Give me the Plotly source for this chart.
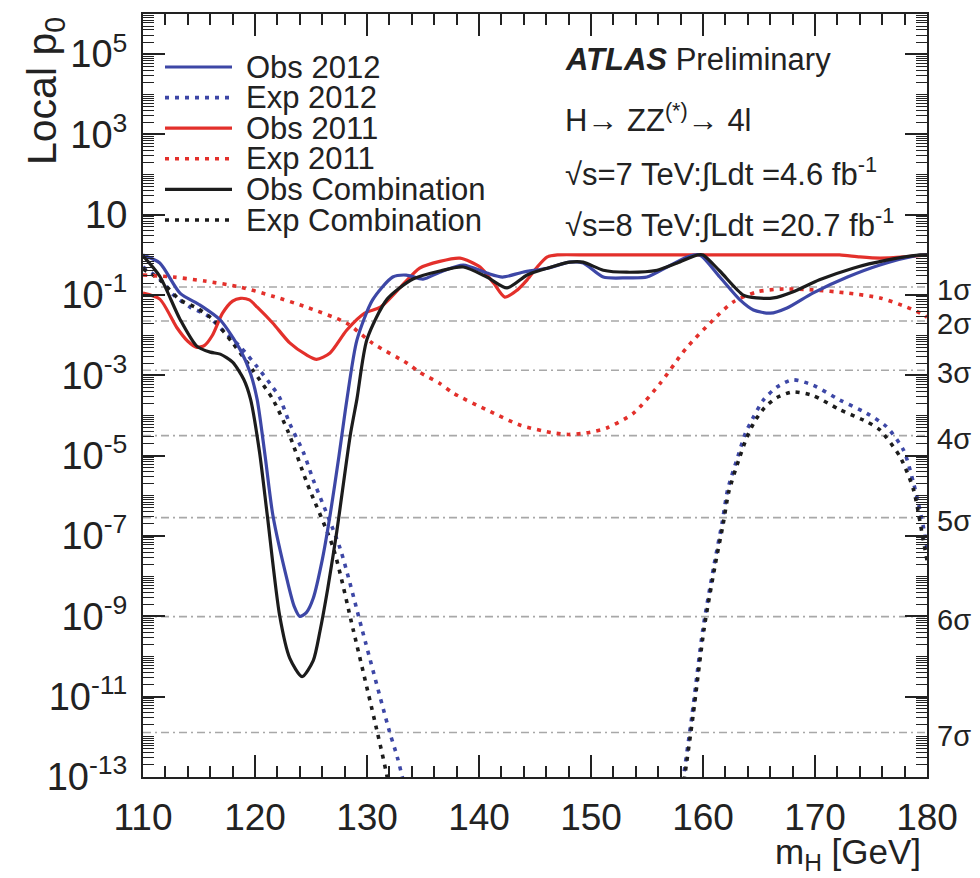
import numpy as np
import plotly.graph_objects as go

# ---------------- data (log10 of local p0 vs m_H [GeV]) ----------------
MH_OBS2012 = [110, 111.5, 113.3, 115.1, 116.9, 118.7, 119.6, 120.2, 120.9, 121.6, 122.9, 123.5, 124.0,
              124.6, 125.2, 126.0, 126.7, 127.5, 128.2, 129.1, 130.5, 132.3, 133.5, 135.0, 136.5, 138.6,
              140.7, 142.1, 143.9, 146.1, 148.1, 149.3, 151.1, 153.2, 155.0, 156.8, 158.6, 159.7, 161.5,
              163.3, 164.5, 166.0, 167.5, 169.8, 172.9, 175.8, 178.8, 180]
LOGP_OBS2012 = [0.0, -0.2, -0.95, -1.25, -1.62, -2.37, -2.95, -3.61, -5.0, -6.49, -8.13, -8.75, -9.0,
                -8.9, -8.55, -7.6, -6.49, -5.0, -3.61, -2.12, -1.12, -0.55, -0.5, -0.6, -0.43, -0.25,
                -0.45, -0.55, -0.43, -0.33, -0.18, -0.2, -0.55, -0.57, -0.55, -0.3, -0.05, 0.0, -0.55,
                -1.12, -1.37, -1.45, -1.32, -0.95, -0.55, -0.25, -0.03, 0.0]

MH_EXP2012 = [110, 111.5, 112.7, 114.2, 115.7, 117.1, 118.7, 120.2, 121.6, 122.2, 123.1, 124.3, 125.2,
              127.6, 129.6, 132.0, 132.7, 133.4, 134.5, 157.2, 158.2, 159.0, 160.0, 161.0, 161.7, 162.2,
              163.1, 163.8, 164.5, 165.4, 166.6, 168.0, 169.8, 172.2, 174.6, 176.4, 177.9, 178.8, 179.7, 180]
LOGP_EXP2012 = [-0.3, -0.6, -0.99, -1.3, -1.5, -1.87, -2.29, -2.79, -3.3, -3.55, -4.2, -4.9, -5.6,
                -7.31, -9.37, -11.86, -12.5, -13.3, -15, -15, -13.1, -11.5, -9.3, -7.7, -6.68, -5.85,
                -5.03, -4.43, -4.04, -3.61, -3.29, -3.11, -3.24, -3.61, -3.94, -4.28, -4.86, -5.68, -6.8, -7.3]

MH_OBS2011 = [110, 111.5, 113.0, 114.0, 114.8, 115.5, 116.2, 117.1, 118.0, 118.7, 119.5, 120.2, 121.6,
              123.1, 124.6, 125.5, 126.7, 128.2, 129.8, 131.2, 133.0, 134.7, 136.5, 138.3, 140.1, 141.3,
              142.3, 143.3, 144.3, 145.2, 146.1, 147.0, 150, 160, 170, 172.2, 174, 175.8, 178.0, 180]
LOGP_OBS2011 = [-0.95, -1.1, -1.8, -2.15, -2.3, -2.25, -2.0, -1.45, -1.15, -1.08, -1.12, -1.3, -1.7,
                -2.19, -2.49, -2.6, -2.44, -1.87, -1.45, -1.3, -0.8, -0.33, -0.16, -0.08, -0.3, -0.7,
                -1.05, -0.9, -0.62, -0.3, -0.05, 0.0, 0.0, 0.0, 0.0, 0.0, -0.05, -0.08, -0.05, 0.0]

MH_EXP2011 = [110, 112.7, 115.5, 118.7, 121.5, 124.6, 128.2, 130.5, 133.6, 134.7, 136.5, 137.7, 140.7,
              143.7, 146.6, 148.0, 149.6, 151.4, 153.8, 156.2, 157.9, 158.6, 160.9, 162.7, 164.8, 166.9,
              169.8, 172.9, 175.8, 178.2, 179.4, 180]
LOGP_EXP2011 = [-0.5, -0.55, -0.65, -0.8, -1.02, -1.3, -1.7, -2.2, -2.7, -2.92, -3.2, -3.44, -3.86,
                -4.24, -4.43, -4.47, -4.43, -4.31, -3.94, -3.19, -2.54, -2.29, -1.62, -1.17, -0.92, -0.85,
                -0.87, -0.95, -1.07, -1.3, -1.45, -1.55]

MH_OBSCOMB = [110, 111.5, 113.3, 114.8, 116.0, 116.9, 118.0, 119.0, 119.6, 120.4, 121.1, 122.2, 123.1,
              124.2, 125.2, 125.8, 126.5, 127.3, 128.5, 129.1, 130.0, 131.8, 134.1, 136.5, 138.6, 140.7,
              142.5, 144.3, 146.1, 148.1, 149.3, 151.1, 153.2, 155.9, 157.7, 159.5, 160.0, 161.5, 163.6,
              164.8, 166.3, 168.0, 170.4, 173.4, 176.4, 179.4, 180]
LOGP_OBSCOMB = [-0.02, -0.53, -1.6, -2.27, -2.42, -2.47, -2.67, -3.1, -3.59, -4.9, -6.49, -8.98, -10.04,
                -10.5, -10.1, -9.37, -8.3, -6.89, -4.5, -3.59, -2.1, -1.1, -0.6, -0.4, -0.3, -0.55,
                -0.82, -0.5, -0.33, -0.18, -0.18, -0.38, -0.43, -0.38, -0.2, 0.0, 0.0, -0.4, -1.0,
                -1.07, -1.07, -0.92, -0.62, -0.33, -0.13, 0.0, 0.0]

MH_EXPCOMB = [110, 111.5, 113.3, 114.8, 116.3, 118.0, 119.8, 121.6, 123.0, 124.6, 127.0, 128.8, 130.9,
              131.8, 133.0, 157.2, 158.3, 159.1, 160.1, 161.1, 161.8, 162.3, 163.2, 163.9, 164.6, 165.5,
              166.6, 168.0, 169.8, 172.2, 174.6, 175.8, 177.6, 178.8, 179.6, 180]
LOGP_EXPCOMB = [-0.35, -0.62, -1.12, -1.32, -1.62, -2.19, -2.87, -3.6, -4.43, -5.65, -7.31, -9.37, -11.86,
                -13.0, -15, -15, -13.1, -11.5, -9.3, -7.7, -6.7, -5.9, -5.1, -4.55, -4.15, -3.8,
                -3.55, -3.41, -3.5, -3.85, -4.15, -4.36, -5.03, -5.85, -7.0, -7.6]

SIGMA_LABELS = ["1σ", "2σ", "3σ", "4σ", "5σ", "6σ", "7σ"]
SIGMA_P = [0.1587, 0.02275, 1.35e-3, 3.17e-5, 2.87e-7, 9.87e-10, 1.28e-12]

X_RANGE = [110, 180]
Y_LOG_RANGE = [-13, 6]
Y_LABELLED = [-13, -11, -9, -7, -5, -3, -1, 1, 3, 5]
Y_UNLABELLED = [-12, -10, -8, -6, -4, -2, 0, 2, 4]

LEGEND_NAMES = ["Obs 2012", "Exp 2012", "Obs 2011", "Exp 2011", "Obs Combination", "Exp Combination"]

TEXT_LINES = ["<b><i>ATLAS</i></b> Preliminary",
              "H→ ZZ<sup>(*)</sup>→ 4l",
              "√s=7 TeV:∫Ldt =4.6 fb<sup>-1</sup>",
              "√s=8 TeV:∫Ldt =20.7 fb<sup>-1</sup>"]

# ---------------- styling ----------------
BLUE = "#3d47a6"
RED = "#e3302b"
BLACK = "#1c1c1c"
DOT = "4px,6px"
FONT = "Liberation Sans, Arial, Helvetica, sans-serif"

W, H = 980, 878
ML, MR, MT, MB = 143, 53, 14, 101
PW, PH = W - ML - MR, H - MT - MB


def px_x(px):
    return (px - ML) / PW


def px_y(py):
    return (H - MB - py) / PH


series = [
    ("Exp 2012", MH_EXP2012, LOGP_EXP2012, BLUE, DOT),
    ("Exp Combination", MH_EXPCOMB, LOGP_EXPCOMB, BLACK, DOT),
    ("Exp 2011", MH_EXP2011, LOGP_EXP2011, RED, DOT),
    ("Obs 2011", MH_OBS2011, LOGP_OBS2011, RED, "solid"),
    ("Obs 2012", MH_OBS2012, LOGP_OBS2012, BLUE, "solid"),
    ("Obs Combination", MH_OBSCOMB, LOGP_OBSCOMB, BLACK, "solid"),
]
style = {s[0]: (s[3], s[4]) for s in series}

fig = go.Figure()

# sigma reference lines
for p in SIGMA_P:
    fig.add_trace(go.Scatter(x=X_RANGE, y=[p, p], mode="lines", showlegend=False, hoverinfo="skip",
                             line=dict(color="#a8a8a8", width=1.6, dash="8px,4px,2px,4px")))

for name, mh, lp, color, dash in series:
    fig.add_trace(go.Scatter(x=mh, y=10 ** np.array(lp, dtype=float), mode="lines", name=name,
                             showlegend=False,
                             line=dict(color=color, width=3.2 if dash == "solid" else 3.6, dash=dash,
                                       shape="spline", smoothing=0.7)))

annotations = []
shapes = []

# sigma labels
for lab, p in zip(SIGMA_LABELS, SIGMA_P):
    annotations.append(dict(x=1, xref="paper", y=np.log10(p), yref="y", text=lab, showarrow=False,
                            xanchor="left", yanchor="middle", xshift=8, yshift=-3,
                            font=dict(size=29, color="#222", family=FONT)))

# manual legend
LEG_TOP = 67
LEG_STEP = 30.6
for i, name in enumerate(LEGEND_NAMES):
    color, dash = style[name]
    yy = px_y(LEG_TOP + i * LEG_STEP)
    shapes.append(dict(type="line", xref="paper", yref="paper", x0=px_x(165), x1=px_x(232), y0=yy, y1=yy,
                       line=dict(color=color, width=3.2 if dash == "solid" else 3.6, dash=dash)))
    annotations.append(dict(x=px_x(244), xref="paper", y=yy, yref="paper", text=name, showarrow=False,
                            xanchor="left", yanchor="middle", font=dict(size=31, color="#222", family=FONT)))

# ATLAS text block
for txt, ypx in zip(TEXT_LINES, [60, 118, 172, 223]):
    annotations.append(dict(x=px_x(563), xref="paper", y=px_y(ypx), yref="paper", text=txt, showarrow=False,
                            xanchor="left", yanchor="middle", font=dict(size=31, color="#222", family=FONT)))

# axis titles
annotations.append(dict(x=px_x(45), xref="paper", y=px_y(15), yref="paper", text="Local p<sub>0</sub>",
                        textangle=-90, showarrow=False, xanchor="center", yanchor="top",
                        font=dict(size=41, color="#222", family=FONT)))
annotations.append(dict(x=1, xref="paper", y=px_y(878), yref="paper", text="m<sub>H</sub> [GeV]",
                        showarrow=False, xanchor="right", yanchor="bottom", xshift=-4,
                        font=dict(size=35, color="#222", family=FONT)))

ytext = ["10" if k == 1 else "10<sup>%d</sup>" % k for k in Y_LABELLED]

common_y = dict(type="log", range=Y_LOG_RANGE, tickmode="array", ticks="inside", ticklen=22,
                tickwidth=1.5, tickcolor="#222", mirror="allticks", showgrid=False, zeroline=False)

fig.update_layout(
    width=W, height=H,
    margin=dict(l=ML, r=MR, t=MT, b=MB, pad=0),
    plot_bgcolor="white", paper_bgcolor="white",
    font=dict(family=FONT, color="#222"),
    annotations=annotations, shapes=shapes,
    xaxis=dict(range=X_RANGE, tick0=110, dtick=10, ticks="inside", ticklen=22, tickwidth=1.5,
               tickcolor="#222", showline=True, linecolor="#222", linewidth=2, mirror="allticks",
               showgrid=False, zeroline=False, tickfont=dict(size=37, family=FONT, color="#222"),
               ticklabelstandoff=7,
               minor=dict(dtick=2, ticks="inside", ticklen=11, tickwidth=1.5, tickcolor="#222",
                          showgrid=False)),
    yaxis=dict(**common_y, tickvals=[10.0 ** k for k in Y_LABELLED], ticktext=ytext,
               showline=True, linecolor="#222", linewidth=2,
               tickfont=dict(size=38, family=FONT, color="#222"), ticklabelstandoff=6,
               minor=dict(ticks="inside", ticklen=11, tickwidth=1.2, tickcolor="#222", dtick="D1",
                          showgrid=False)),
    yaxis2=dict(**common_y, overlaying="y", side="left", tickvals=[10.0 ** k for k in Y_UNLABELLED],
                showticklabels=False, showline=False),
)

fig.write_html("out.html")
